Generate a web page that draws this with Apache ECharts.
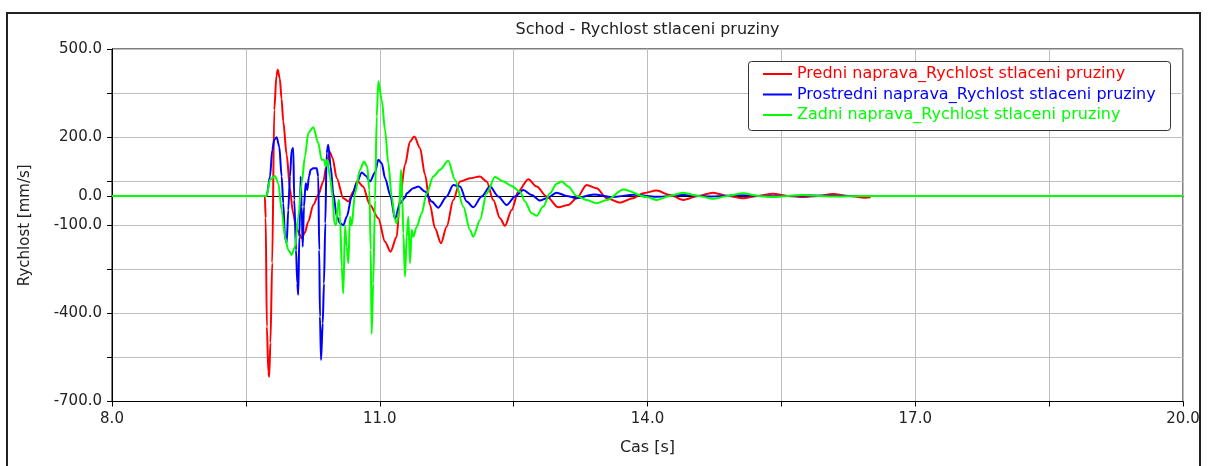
<!DOCTYPE html>
<html><head><meta charset="utf-8">
<script src="https://cdn.jsdelivr.net/npm/echarts@6/dist/echarts.min.js"></script>
<style>html,body{margin:0;padding:0;background:#fff}#c{width:1208px;height:466px}</style>
</head><body><div id="c"></div>
<script>
const chartTitle = 'Schod - Rychlost stlaceni pruziny';
const seriesNames = [
  'Predni naprava_Rychlost stlaceni pruziny',
  'Prostredni naprava_Rychlost stlaceni pruziny',
  'Zadni naprava_Rychlost stlaceni pruziny'
];
const seriesColors = ['#ff0000', '#0000ff', '#00ff00'];
const xName = 'Cas [s]';
const yName = 'Rychlost [mm/s]';
const xRange = [8, 20];
const yRange = [-700, 500];
const xLabelValues = [8, 11, 14, 17, 20];
const yLabelValues = [500, 200, -100, -400, -700];
const yZeroLabel = '0.0';

// [time s, velocity mm/s]
const predni = [[8,0],[9.712,0],[9.722,-75],[9.735,-445],[9.752,-600],[9.761,-616],[9.775,-500],[9.795,-228],[9.818,293],[9.843,410],[9.857,429],[9.88,400],[9.9,330],[9.919,253],[9.957,140],[9.994,26],[10.025,-53],[10.06,-100],[10.087,-122],[10.125,-144],[10.16,-125],[10.199,-88],[10.255,-31],[10.311,3],[10.367,49],[10.405,106],[10.44,150],[10.47,130],[10.518,60],[10.592,-8],[10.648,-19],[10.704,15],[10.748,51],[10.812,32],[10.891,-31],[10.984,-76],[11.059,-156],[11.12,-190],[11.19,-139],[11.227,-7],[11.283,106],[11.339,185],[11.387,202],[11.451,163],[11.507,72],[11.563,-31],[11.619,-110],[11.686,-161],[11.75,-105],[11.824,-14],[11.899,49],[12.011,60],[12.123,66],[12.198,49],[12.272,-14],[12.347,-76],[12.403,-102],[12.478,-48],[12.552,15],[12.664,57],[12.758,32],[12.87,-2],[13.0,-39],[13.112,-31],[13.206,-8],[13.318,37],[13.43,26],[13.543,-8],[13.692,-23],[13.837,-8],[13.95,9],[14.103,18],[14.25,3],[14.401,-14],[14.57,0],[14.734,11],[14.9,0],[15.07,-8],[15.24,0],[15.406,7],[15.57,0],[15.742,-4],[15.91,0],[16.078,6],[16.26,0],[16.437,-6],[16.5,-5]];

const prostredni = [[8,0],[9.733,0],[9.77,66],[9.796,157],[9.818,191],[9.845,200],[9.874,168],[9.901,66],[9.919,-25],[9.938,-139],[9.957,-161],[9.975,-48],[9.994,66],[10.013,157],[10.031,163],[10.042,-14],[10.062,-184],[10.076,-298],[10.087,-337],[10.099,-139],[10.114,66],[10.125,-36],[10.137,-173],[10.151,-36],[10.17,43],[10.188,20],[10.207,66],[10.226,89],[10.255,94],[10.293,94],[10.311,66],[10.322,-184],[10.33,-411],[10.342,-559],[10.361,-434],[10.375,-298],[10.39,-93],[10.405,146],[10.423,174],[10.45,100],[10.479,9],[10.518,-70],[10.555,-93],[10.592,-100],[10.63,-71],[10.686,-2],[10.742,43],[10.798,80],[10.846,68],[10.891,49],[10.947,80],[10.984,123],[11.022,111],[11.06,60],[11.12,0],[11.171,-78],[11.227,-25],[11.283,-6],[11.302,9],[11.376,26],[11.432,32],[11.507,15],[11.582,-19],[11.656,-40],[11.75,-2],[11.824,37],[11.899,32],[11.974,-19],[12.048,-39],[12.142,-2],[12.235,32],[12.328,-2],[12.422,-31],[12.515,-2],[12.608,20],[12.702,3],[12.795,-16],[12.87,-8],[12.982,11],[13.094,0],[13.206,-8],[13.4,5],[13.6,-4],[13.85,4],[14.1,-3],[14.4,3],[14.7,-2],[15.0,2],[15.4,-1],[15.8,1],[16.2,0],[16.5,0]];

const zadni = [[8,0],[9.733,0],[9.77,55],[9.826,68],[9.863,43],[9.901,-48],[9.938,-139],[9.975,-184],[10.013,-201],[10.05,-173],[10.087,-71],[10.125,43],[10.162,134],[10.199,214],[10.255,234],[10.311,180],[10.349,123],[10.375,123],[10.394,100],[10.412,123],[10.442,66],[10.472,-2],[10.49,-93],[10.51,-99],[10.529,-36],[10.543,-14],[10.555,-71],[10.574,-240],[10.592,-332],[10.611,-100],[10.63,-173],[10.648,-229],[10.667,-71],[10.686,-100],[10.723,9],[10.779,89],[10.823,117],[10.86,100],[10.883,20],[10.899,-184],[10.909,-470],[10.927,-298],[10.947,-14],[10.966,270],[10.984,390],[11.022,327],[11.059,225],[11.096,111],[11.134,-2],[11.171,-82],[11.19,-93],[11.219,-48],[11.238,89],[11.253,-14],[11.264,-127],[11.283,-275],[11.302,-139],[11.32,-71],[11.339,-229],[11.358,-116],[11.376,-139],[11.414,-105],[11.47,-59],[11.526,9],[11.6,66],[11.675,89],[11.768,120],[11.843,55],[11.936,-36],[12.011,-116],[12.048,-139],[12.123,-82],[12.198,9],[12.291,64],[12.384,49],[12.478,34],[12.571,15],[12.627,-19],[12.702,-59],[12.758,-68],[12.832,-36],[12.907,9],[12.982,41],[13.038,49],[13.112,32],[13.206,0],[13.318,-14],[13.43,-25],[13.543,-14],[13.73,22],[13.99,-4],[14.106,-14],[14.25,0],[14.397,11],[14.57,0],[14.734,-10],[14.9,0],[15.07,9],[15.24,0],[15.406,-4],[15.57,0],[15.742,3],[15.91,0],[16.078,-2],[16.4,0],[20,0]];

const seriesData = [predni, prostredni, zadni];

const FONT = 'DejaVu Sans';
const TXT = '#222';
const GRIDC = '#bdbdbd';
const xStep = 1.5, yStep = 150;

const chart = echarts.init(document.getElementById('c'), null, {renderer: 'canvas'});
chart.setOption({
  animation: false,
  backgroundColor: '#fff',
  title: {
    text: chartTitle, left: 647.5, top: 22, padding: 0, textAlign: 'center',
    textStyle: {fontFamily: FONT, fontSize: 16, fontWeight: 'normal', color: TXT}
  },
  grid: {left: 112, right: 25, top: 49, bottom: 64.5, show: true, borderColor: '#000', borderWidth: 1, backgroundColor: '#fff'},
  legend: {
    orient: 'vertical', left: 763, top: 66, itemWidth: 29, itemHeight: 16, itemGap: 4.5, z: 12,
    padding: 0, selectedMode: false,
    icon: 'path://M0,0 L29,0 L29,2 L0,2 Z',
    textStyle: {fontFamily: FONT, fontSize: 16, lineHeight: 16},
    data: seriesNames.map((n, i) => ({name: n, textStyle: {color: seriesColors[i]}, itemStyle: {color: seriesColors[i]}}))
  },
  graphic: [
    {type: 'rect', z: 8, shape: {x: 748.5, y: 61.5, width: 422, height: 69, r: 3}, style: {fill: '#fff', stroke: '#333', lineWidth: 1}},
    {type: 'rect', z: 20, shape: {x: 7, y: 13, width: 1193, height: 520}, style: {fill: 'none', stroke: '#222', lineWidth: 2}}
  ],
  xAxis: [
    { // data axis, its line is the zero line
      type: 'value', min: xRange[0], max: xRange[1],
      axisLine: {show: true, onZero: true, onZeroAxisIndex: 0, lineStyle: {color: '#000', width: 1}},
      axisTick: {show: false}, axisLabel: {show: false}, splitLine: {show: false}
    },
    { // grid / label axis
      type: 'value', min: 0, max: xRange[1] - xRange[0], interval: xStep, position: 'bottom',
      axisLine: {show: true, onZero: false, lineStyle: {color: '#000', width: 1}},
      axisTick: {show: true, length: 5, lineStyle: {color: '#000'}},
      splitLine: {show: true, lineStyle: {color: GRIDC, width: 1}},
      axisLabel: {
        margin: 10, color: TXT, fontFamily: FONT, fontSize: 15,
        formatter: v => { const t = +(v + xRange[0]).toFixed(6); return xLabelValues.includes(t) ? t.toFixed(1) : ''; }
      },
      name: xName, nameLocation: 'middle', nameGap: 38,
      nameTextStyle: {fontFamily: FONT, fontSize: 16, color: TXT}
    }
  ],
  yAxis: [
    { // data axis
      type: 'value', min: yRange[0], max: yRange[1], interval: -yRange[0],
      axisLine: {show: false, onZero: false},
      axisTick: {show: true, length: 5, lineStyle: {color: '#000'}},
      splitLine: {show: false},
      axisLabel: {margin: 10, color: TXT, fontFamily: FONT, fontSize: 15, formatter: v => v === 0 ? yZeroLabel : ''}
    },
    { // grid / label axis
      type: 'value', min: 0, max: yRange[1] - yRange[0], interval: yStep, position: 'left',
      axisLine: {show: true, onZero: false, lineStyle: {color: '#000', width: 1}},
      axisTick: {show: true, length: 5, lineStyle: {color: '#000'}},
      splitLine: {show: true, lineStyle: {color: GRIDC, width: 1}},
      axisLabel: {
        margin: 10, color: TXT, fontFamily: FONT, fontSize: 15,
        formatter: v => { const val = Math.round(v + yRange[0]); return yLabelValues.includes(val) ? val.toFixed(1) : ''; }
      },
      name: yName, nameLocation: 'middle', nameGap: 79,
      nameTextStyle: {fontFamily: FONT, fontSize: 15, color: TXT}
    }
  ],
  series: seriesNames.map((n, i) => ({
    name: n, type: 'line', xAxisIndex: 0, yAxisIndex: 0,
    data: seriesData[i], symbol: 'none', smooth: 0.3, smoothMonotone: 'x',
    lineStyle: {color: seriesColors[i], width: 2}, itemStyle: {color: seriesColors[i]},
    z: 2 + i
  }))
});
</script>
</body></html>
